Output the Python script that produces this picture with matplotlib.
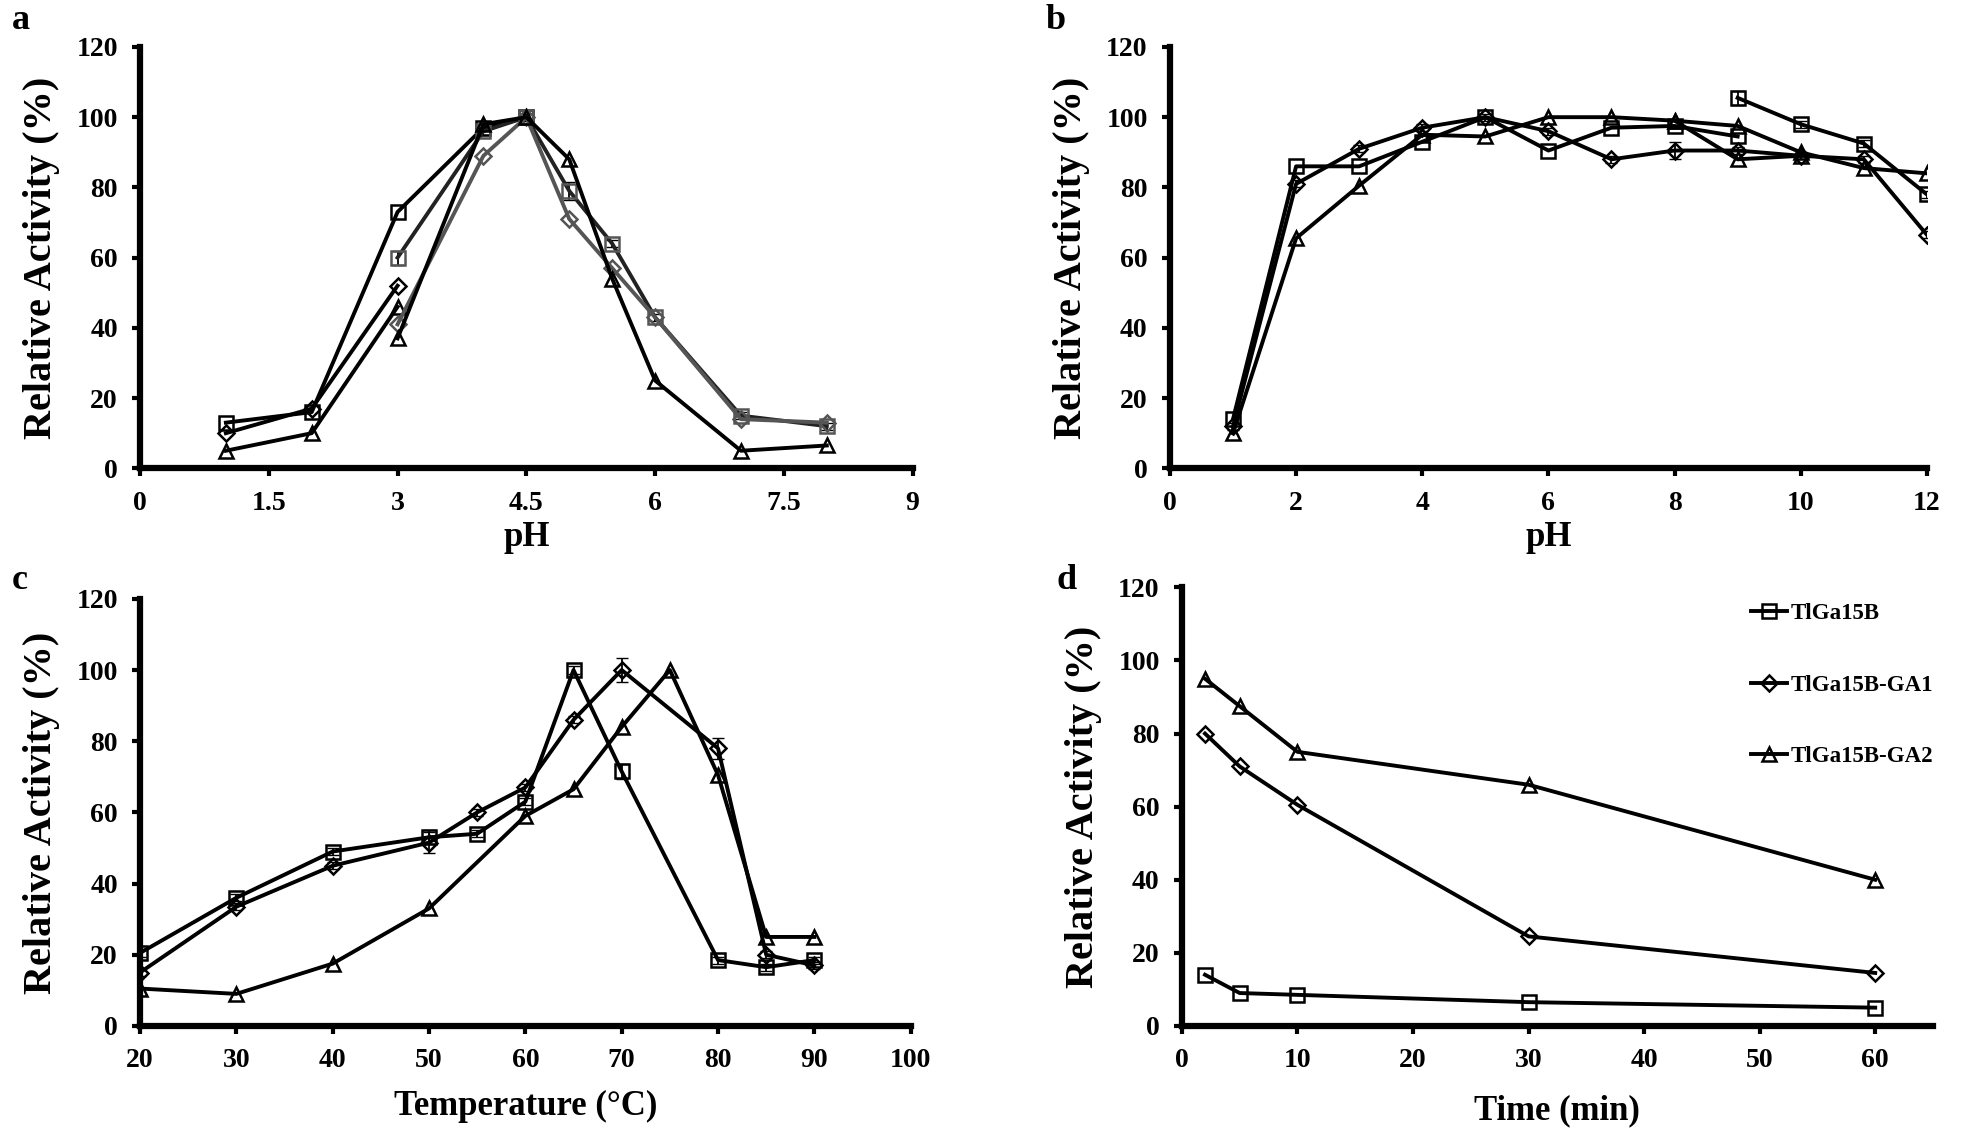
import numpy as np
import matplotlib
matplotlib.use('Agg')
import matplotlib.pyplot as plt

plt.rcParams['font.family'] = ['Liberation Serif', 'DejaVu Serif']
plt.rcParams['font.weight'] = 'bold'

# ---- panel a : pH optimum (two buffer sets) ----
a_sq1_x = [1, 2, 3, 4, 4.5]
a_sq1_y = [13, 16, 73, 97, 100]
a_sq2_x = [3, 4, 4.5, 5, 5.5, 6, 7, 8]
a_sq2_y = [60, 96, 100, 79, 64, 43, 15, 12]
a_sq2_e = [2, 1, 1, 2.5, 1, 1, 1, 1]
a_di1_x = [1, 2, 3]
a_di1_y = [10, 17, 52]
a_di2_x = [3, 4, 4.5, 5, 5.5, 6, 7, 8]
a_di2_y = [41, 89, 100, 71, 57, 43, 14, 13]
a_tr1_x = [1, 2, 3]
a_tr1_y = [5, 10, 46]
a_tr2_x = [3, 4, 4.5, 5, 5.5, 6, 7, 8]
a_tr2_y = [37, 98, 100, 88, 54, 25, 5, 6.5]

# ---- panel b : pH stability ----
b_sq1_x = [1, 2, 3, 4, 5, 6, 7, 8, 9]
b_sq1_y = [14, 86, 86, 93, 100, 90.5, 97, 97.5, 94.5]
b_sq2_x = [9, 10, 11, 12]
b_sq2_y = [105.5, 98, 92.5, 78]
b_sq2_e = [2, 1, 1, 1]
b_di_x = [1, 2, 3, 4, 5, 6, 7, 8, 9, 10, 11, 12]
b_di_y = [12, 81, 91, 97, 100, 96, 88, 90.5, 90.5, 89, 88, 66.5]
b_di_e = [1, 1, 1, 1, 1, 1, 1, 2.5, 1, 1, 1, 1]
b_tr_x = [1, 2, 3, 4, 5, 6, 7, 8, 9, 10, 11, 12]
b_tr_y = [10, 65.5, 80.5, 95, 94.5, 100, 100, 99, 97.5, 90, 85.5, 84]
b_tr2_x = [8, 9, 10]
b_tr2_y = [99, 88, 89]

# ---- panel c : temperature ----
c_sq_x = [20, 30, 40, 50, 55, 60, 65, 70, 80, 85, 90]
c_sq_y = [20.5, 36, 49, 53, 54, 63, 100, 71.5, 18.5, 16.5, 18.5]
c_sq_e = [1, 1, 1, 2, 1, 1, 1, 2, 1, 1, 1]
c_di_x = [20, 30, 40, 50, 55, 60, 65, 70, 80, 85, 90]
c_di_y = [15, 33.5, 45, 51.5, 60, 67, 86, 100, 78, 20, 17]
c_di_e = [1, 1, 1, 3, 1, 1, 1, 3.5, 3, 1, 1]
c_tr_x = [20, 30, 40, 50, 60, 65, 70, 75, 80, 85, 90]
c_tr_y = [10.5, 9, 17.5, 33, 59, 66.5, 84, 100, 70.5, 25, 25]

# ---- panel d : thermostability ----
d_x = [2, 5, 10, 30, 60]
d_sq = [14, 9, 8.5, 6.5, 5]
d_di = [80, 71, 60.5, 24.5, 14.5]
d_tr = [95, 87.5, 75, 66, 40]
labels = ['TlGa15B', 'TlGa15B-GA1', 'TlGa15B-GA2']

lw = 2.8
ms = 10
mew = 1.8
gray = '#555555'


def line(ax, x, y, m, c='black', mc=None, err=None, label=None):
    mc = mc or c
    if err is not None:
        ax.errorbar(x, y, yerr=err, fmt='none', ecolor='black', elinewidth=1.3, capsize=4)
    size = ms - 2 if m == 'D' else ms
    ax.plot(x, y, color=c, lw=lw, marker=m, ms=size, mfc='none', mec=mc, mew=mew,
            label=label, zorder=3)


def style(ax, xlim, xticks, xticklabels, xlabel, xpad):
    ax.set_ylim(0, 120)
    ax.set_yticks(range(0, 121, 20))
    ax.set_xlim(*xlim)
    ax.set_xticks(xticks)
    ax.set_xticklabels(xticklabels)
    for s in ['top', 'right']:
        ax.spines[s].set_visible(False)
    for s in ['left', 'bottom']:
        ax.spines[s].set_linewidth(4.5)
    ax.tick_params(direction='out', length=6, width=3, labelsize=20, pad=10)
    for t in ax.get_xticklabels() + ax.get_yticklabels():
        t.set_fontweight('bold')
    ax.set_xlabel(xlabel, fontsize=25, fontweight='bold', labelpad=xpad)
    ax.set_ylabel('Relative Activity (%)', fontsize=29, fontweight='bold', labelpad=12)


fig = plt.figure(figsize=(19.61, 11.45), dpi=100)
axa = fig.add_axes([0.0714, 0.591, 0.394, 0.368])
axb = fig.add_axes([0.5966, 0.591, 0.386, 0.368])
axc = fig.add_axes([0.0714, 0.104, 0.393, 0.373])
axd = fig.add_axes([0.6027, 0.104, 0.383, 0.383])

# a
line(axa, a_sq1_x, a_sq1_y, 's')
line(axa, a_di1_x, a_di1_y, 'D')
line(axa, a_tr1_x, a_tr1_y, '^')
line(axa, a_sq2_x, a_sq2_y, 's', c='#222222', mc=gray, err=a_sq2_e)
line(axa, a_di2_x, a_di2_y, 'D', c=gray, mc=gray)
line(axa, a_tr2_x, a_tr2_y, '^')
style(axa, (0, 9), [0, 1.5, 3, 4.5, 6, 7.5, 9], ['0', '1.5', '3', '4.5', '6', '7.5', '9'], 'pH', 4)

# b
line(axb, b_sq1_x, b_sq1_y, 's')
line(axb, b_sq2_x, b_sq2_y, 's', err=b_sq2_e)
line(axb, b_di_x, b_di_y, 'D', err=b_di_e)
line(axb, b_tr_x, b_tr_y, '^')
line(axb, b_tr2_x, b_tr2_y, '^')
style(axb, (0, 12), range(0, 13, 2), [str(v) for v in range(0, 13, 2)], 'pH', 4)

# c
line(axc, c_sq_x, c_sq_y, 's', err=c_sq_e)
line(axc, c_di_x, c_di_y, 'D', err=c_di_e)
line(axc, c_tr_x, c_tr_y, '^')
style(axc, (20, 100), range(20, 101, 10), [str(v) for v in range(20, 101, 10)],
      'Temperature (\u00b0C)', 12)

# d
line(axd, d_x, d_sq, 's', label=labels[0])
line(axd, d_x, d_di, 'D', label=labels[1])
line(axd, d_x, d_tr, '^', label=labels[2])
style(axd, (0, 65), range(0, 61, 10), [str(v) for v in range(0, 61, 10)], 'Time (min)', 15)
axd.legend(loc='upper left', bbox_to_anchor=(0.745, 0.985), frameon=False,
           handlelength=1.6, labelspacing=2.2, handletextpad=0.15, borderaxespad=0,
           prop={'weight': 'bold', 'size': 16.5})

# panel letters
for txt, x, y in [('a', 0.006, 0.982), ('b', 0.533, 0.982), ('c', 0.006, 0.493), ('d', 0.539, 0.493)]:
    fig.text(x, y, txt, fontsize=26, fontweight='bold', va='center', ha='left')

fig.savefig('out.png', dpi=100)
